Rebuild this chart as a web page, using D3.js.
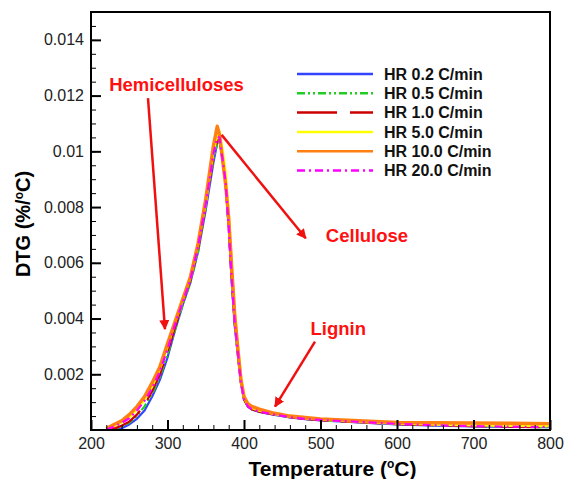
<!DOCTYPE html>
<html>
<head>
<meta charset="utf-8">
<script src="https://cdn.jsdelivr.net/npm/d3@7"></script>
<style>
  body { margin: 0; background: #fff; }
  text { font-family: "Liberation Sans", Arial, sans-serif; }
</style>
</head>
<body>
<svg id="chart" width="565" height="479"></svg>
<script>
// Temperature grid (°C) used for every series
const temps = [220, 230, 240, 250, 260, 270, 280, 290, 300, 310, 320, 330, 340, 350, 360, 365, 368, 372, 376, 380,
               384, 388, 392, 396, 400, 405, 410, 420, 440, 460, 480, 500, 550, 600, 650, 700, 750, 800];

// DTG values, one array per heating rate
const hr02 = [0, 0, 0.00006, 0.0002, 0.0004, 0.0007, 0.0012, 0.0018, 0.0026, 0.0036, 0.0045, 0.0053, 0.0064, 0.0079, 0.0096, 0.0103, 0.0104, 0.0097, 0.0088, 0.0073,
              0.0053, 0.0037, 0.0027, 0.0017, 0.0011, 0.00085, 0.00074, 0.00065, 0.00054, 0.00045, 0.00039, 0.00034, 0.00027, 0.0002, 0.00016, 0.00013, 0.00011, 0.0001];
const hr05 = [0, 0.00003, 0.00012, 0.00026, 0.0005, 0.00085, 0.0013, 0.0019, 0.0027, 0.0036, 0.0045, 0.0053, 0.0064, 0.008, 0.0097, 0.0103, 0.0104, 0.0097, 0.0088, 0.0073,
              0.0053, 0.0038, 0.0027, 0.0017, 0.0011, 0.00085, 0.00075, 0.00066, 0.00055, 0.00046, 0.0004, 0.00035, 0.00028, 0.00021, 0.00017, 0.00014, 0.00012, 0.0001];
const hr10 = [0, 0.00005, 0.00015, 0.0003, 0.00055, 0.0009, 0.0014, 0.002, 0.0028, 0.0037, 0.0046, 0.0054, 0.0065, 0.0081, 0.0098, 0.0104, 0.0104, 0.0097, 0.0088, 0.0073,
              0.0053, 0.0038, 0.0027, 0.0017, 0.0011, 0.00085, 0.00075, 0.00066, 0.00055, 0.00046, 0.0004, 0.00035, 0.00028, 0.00021, 0.00017, 0.00014, 0.00012, 0.0001];
const hr50 = [0.00003, 0.00015, 0.00028, 0.00046, 0.00075, 0.0011, 0.00158, 0.0022, 0.003, 0.0039, 0.0047, 0.0055, 0.0067, 0.0082, 0.01, 0.0106, 0.0107, 0.01, 0.0092, 0.0077,
              0.0058, 0.0041, 0.003, 0.0019, 0.0012, 0.0009, 0.0008, 0.0007, 0.00058, 0.00049, 0.00043, 0.00038, 0.0003, 0.00024, 0.0002, 0.00018, 0.00016, 0.00015];
const hr100 = [0.00005, 0.0002, 0.00033, 0.00055, 0.00084, 0.0012, 0.0017, 0.00227, 0.0031, 0.0039, 0.0047, 0.0055, 0.0067, 0.0083, 0.0102, 0.0109, 0.0106, 0.0097, 0.0088, 0.0076,
               0.0058, 0.0041, 0.0029, 0.0018, 0.0012, 0.00095, 0.00085, 0.00075, 0.0006, 0.0005, 0.00045, 0.0004, 0.00033, 0.00027, 0.00026, 0.00025, 0.00024, 0.00023];
const hr200 = [0.00002, 0.00012, 0.00025, 0.00042, 0.0007, 0.00105, 0.0015, 0.0021, 0.0029, 0.0038, 0.0046, 0.0054, 0.0066, 0.0081, 0.0099, 0.0105, 0.0105, 0.0097, 0.0089, 0.0073,
               0.0054, 0.0038, 0.0028, 0.0017, 0.0011, 0.00085, 0.00075, 0.00066, 0.00055, 0.00046, 0.0004, 0.00036, 0.00029, 0.00022, 0.00017, 0.00014, 0.00012, 0.00011];

const seriesNames = ["HR 0.2 C/min", "HR 0.5 C/min", "HR 1.0 C/min", "HR 5.0 C/min", "HR 10.0 C/min", "HR 20.0 C/min"];
const seriesValues = [hr02, hr05, hr10, hr50, hr100, hr200];

// Axis ticks
const xTicks = [200, 300, 400, 500, 600, 700, 800];
const yTicks = [0.002, 0.004, 0.006, 0.008, 0.01, 0.012, 0.014];
const yTickLabels = ["0.002", "0.004", "0.006", "0.008", "0.01", "0.012", "0.014"];

// Annotations: label, text anchor point, arrow start, arrow tip (data coords)
const notes = [
  { label: "Hemicelluloses", at: [311.8, 0.01217], anchor: "middle", from: [274.5, 0.01191], to: [296.7, 0.00362] },
  { label: "Cellulose", at: [507, 0.00676], anchor: "start", from: [370.8, 0.01059], to: [480.7, 0.00688] },
  { label: "Lignin", at: [487, 0.00341], anchor: "start", from: [492.8, 0.00317], to: [440.5, 0.00084] }
];

const svg = d3.select("#chart");
const m = { left: 91, top: 12, right: 15, bottom: 49 };
const W = 565, H = 479;

const x = d3.scaleLinear().domain([200, 800]).range([m.left, W - m.right]);
const y = d3.scaleLinear().domain([0, 0.015]).range([H - m.bottom, m.top]);

// styles per series (legend order)
const styles = [
  { color: "#3344ff", width: 2.2, dash: null },
  { color: "#22cc22", width: 2.2, dash: "8,3,2,3,2,3" },
  { color: "#cc0000", width: 2.2, dash: "40,13" },
  { color: "#ffff00", width: 2.8, dash: null },
  { color: "#ff8010", width: 3.4, dash: null },
  { color: "#ff00ff", width: 2.2, dash: "8,4,2,4" }
];

svg.append("clipPath").attr("id", "clip")
  .append("rect")
  .attr("x", m.left).attr("y", m.top)
  .attr("width", W - m.left - m.right).attr("height", H - m.top - m.bottom);

const line = d3.line()
  .x(d => x(d[0]))
  .y(d => y(d[1]));

const plot = svg.append("g").attr("clip-path", "url(#clip)");
seriesValues.forEach((vals, i) => {
  const pts = temps.map((t, j) => [t, vals[j]]);
  plot.append("path")
    .attr("fill", "none")
    .attr("stroke", styles[i].color)
    .attr("stroke-width", styles[i].width)
    .attr("stroke-dasharray", styles[i].dash)
    .attr("stroke-linejoin", "round")
    .attr("d", line(pts));
});

// Axes: ticks pointing inward, minor ticks
const xAxis = svg.append("g").attr("transform", `translate(0,${y(0)})`);
xAxis.call(d3.axisBottom(x).tickValues(d3.range(200, 801, 20)).tickSize(-5).tickFormat(""));
xAxis.call(g => g.selectAll(".tick line").attr("stroke-width", 1));
const xMajor = svg.append("g").attr("transform", `translate(0,${y(0)})`);
xMajor.call(d3.axisBottom(x).tickValues(xTicks).tickSize(-10).tickPadding(6).tickFormat(d3.format("d")));
xMajor.selectAll(".tick line").attr("stroke-width", 2);
xMajor.selectAll(".tick text").attr("y", 8).attr("dy", "0.71em").style("font-size", "16px").attr("fill", "#222");

const yAxis = svg.append("g").attr("transform", `translate(${x(200)},0)`);
yAxis.call(d3.axisLeft(y).tickValues(d3.range(1, 30).map(k => k * 0.0005)).tickSize(-5).tickFormat(""));
const yMajor = svg.append("g").attr("transform", `translate(${x(200)},0)`);
yMajor.call(d3.axisLeft(y).tickValues(yTicks).tickSize(-10).tickPadding(7).tickFormat((d, i) => yTickLabels[i]));
yMajor.selectAll(".tick line").attr("stroke-width", 2);
yMajor.selectAll(".tick text").attr("x", -7).style("font-size", "16px").attr("fill", "#222");
svg.selectAll(".domain").remove();

// frame
svg.append("rect")
  .attr("x", x(200)).attr("y", y(0.015))
  .attr("width", x(800) - x(200)).attr("height", y(0) - y(0.015))
  .attr("fill", "none").attr("stroke", "#000").attr("stroke-width", 2);

// axis titles
const xt = svg.append("text")
  .attr("x", (x(200) + x(800)) / 2 + 12).attr("y", 476)
  .attr("text-anchor", "middle")
  .style("font-size", "21px").style("font-weight", "bold")
  .text("Temperature (");
xt.append("tspan").attr("dy", -8).style("font-size", "12px").text("o");
xt.append("tspan").attr("dy", 8).text("C)");

const yt = svg.append("text")
  .attr("transform", `translate(30,${(y(0) + y(0.015)) / 2 + 3}) rotate(-90)`)
  .attr("text-anchor", "middle")
  .style("font-size", "20px").style("font-weight", "bold")
  .text("DTG (%/");
yt.append("tspan").attr("dy", -7).style("font-size", "12px").text("o");
yt.append("tspan").attr("dy", 7).text("C)");

// legend
const lg = svg.append("g");
seriesNames.forEach((name, i) => {
  const ly = 74 + i * 19.3;
  lg.append("line")
    .attr("x1", 297).attr("x2", 373).attr("y1", ly).attr("y2", ly)
    .attr("stroke", styles[i].color)
    .attr("stroke-width", 2.5)
    .attr("stroke-dasharray", styles[i].dash);
  lg.append("text")
    .attr("x", 384).attr("y", ly).attr("dy", "0.36em")
    .style("font-size", "16px").style("font-weight", "bold")
    .attr("fill", "#111")
    .text(name);
});

// annotations
svg.append("defs").append("marker")
  .attr("id", "arrow")
  .attr("viewBox", "0 0 10 10")
  .attr("refX", 9).attr("refY", 5)
  .attr("markerWidth", 4).attr("markerHeight", 4)
  .attr("orient", "auto")
  .append("path").attr("d", "M0,0L10,5L0,10z").attr("fill", "#f01010");

notes.forEach(n => {
  svg.append("line")
    .attr("x1", x(n.from[0])).attr("y1", y(n.from[1]))
    .attr("x2", x(n.to[0])).attr("y2", y(n.to[1]))
    .attr("stroke", "#f01010").attr("stroke-width", 2.5)
    .attr("marker-end", "url(#arrow)");
  svg.append("text")
    .attr("x", x(n.at[0])).attr("y", y(n.at[1]))
    .attr("text-anchor", n.anchor)
    .style("font-size", "18.5px").style("font-weight", "bold")
    .attr("fill", "#ff1010")
    .text(n.label);
});
</script>
</body>
</html>
